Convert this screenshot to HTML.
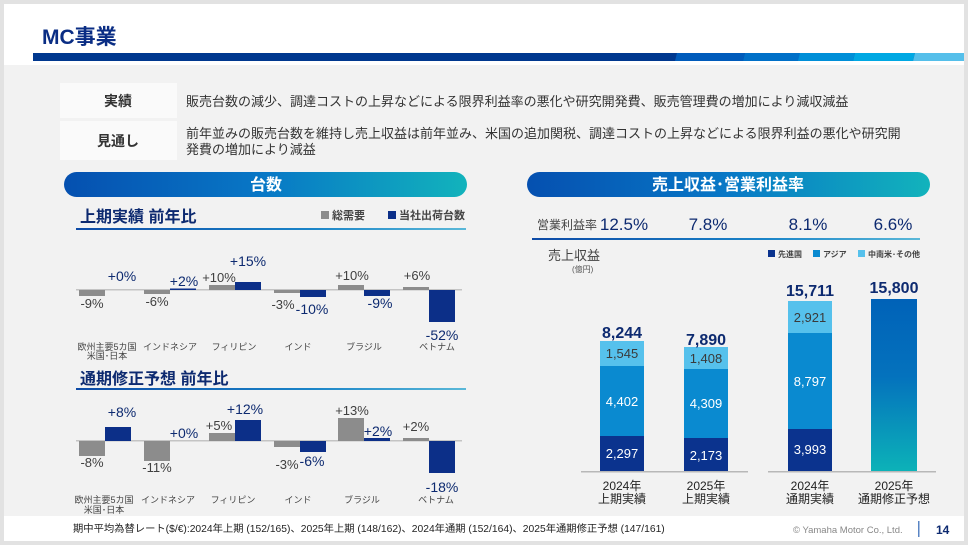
<!DOCTYPE html>
<html><head><meta charset="utf-8">
<style>
html,body{margin:0;padding:0;background:#e2e2e2;}
body{width:968px;height:545px;overflow:hidden;}
svg{display:block;}
text{font-family:"Liberation Sans","Noto Sans CJK JP",sans-serif;}
</style></head>
<body>
<svg width="968" height="545" viewBox="0 0 968 545" xmlns="http://www.w3.org/2000/svg">
<defs>
<linearGradient id="pill" x1="0" y1="0" x2="1" y2="0">
<stop offset="0" stop-color="#0550b0"/><stop offset="0.5" stop-color="#0878c6"/><stop offset="1" stop-color="#12b3bc"/>
</linearGradient>
<linearGradient id="uline" x1="0" y1="0" x2="1" y2="0">
<stop offset="0" stop-color="#0d4aa6"/><stop offset="0.6" stop-color="#1a84c8"/><stop offset="1" stop-color="#5ab8d8"/>
</linearGradient>
<linearGradient id="bar4" x1="0" y1="0" x2="0" y2="1">
<stop offset="0" stop-color="#0062b8"/><stop offset="0.45" stop-color="#0472bd"/><stop offset="1" stop-color="#0cb2b8"/>
</linearGradient>
</defs>
<!-- slide -->
<rect x="4" y="4" width="960" height="537" fill="#f2f2f2"/>
<rect x="4" y="4" width="960" height="61" fill="#ffffff"/>
<rect x="4" y="516" width="960" height="25" fill="#ffffff"/>
<!-- header band -->
<rect x="33" y="53" width="931" height="8" fill="#00388f"/>
<polygon points="677,53 745,53 743,61 675,61" fill="#005bbb"/>
<polygon points="745,53 800,53 800,61 743,61" fill="#0070c8"/>
<polygon points="800,53 855,53 853,61 798,61" fill="#008fd8"/>
<polygon points="855,53 915,53 913,61 853,61" fill="#00a8e3"/>
<polygon points="915,53 964,53 964,61 913,61" fill="#55bfea"/>
<text x="42" y="44" font-size="21" fill="#0a2d84" font-weight="bold">MC事業</text>

<!-- summary boxes -->
<rect x="60" y="83" width="117" height="35" fill="#fafafa"/>
<rect x="60" y="121" width="117" height="39" fill="#fafafa"/>
<text x="118" y="106" font-size="14" font-weight="bold" fill="#333" text-anchor="middle">実績</text>
<text x="118" y="146" font-size="14" font-weight="bold" fill="#333" text-anchor="middle">見通し</text>
<text x="186" y="106" font-size="13" fill="#333">販売台数の減少、調達コストの上昇などによる限界利益率の悪化や研究開発費、販売管理費の増加により減収減益</text>
<text x="186" y="138" font-size="13" fill="#333">前年並みの販売台数を維持し売上収益は前年並み、米国の追加関税、調達コストの上昇などによる限界利益の悪化や研究開</text>
<text x="186" y="154" font-size="13" fill="#333">発費の増加により減益</text>

<!-- left pill -->
<rect x="64" y="172" width="403" height="25" rx="12.5" fill="url(#pill)"/>
<text x="266" y="190" font-size="16" font-weight="bold" fill="#fff" text-anchor="middle">台数</text>

<!-- chart 1 -->
<text x="80" y="222" font-size="16" font-weight="bold" fill="#0d2a70">上期実績 前年比</text>
<rect x="76" y="228" width="390" height="2" fill="url(#uline)"/>
<rect x="321" y="211" width="8" height="8" fill="#8c8c8c"/>
<text x="332" y="219" font-size="11" fill="#444" font-weight="bold">総需要</text>
<rect x="388" y="211" width="8" height="8" fill="#0c2f88"/>
<text x="399" y="219" font-size="11" fill="#444" font-weight="bold">当社出荷台数</text>
<rect x="76" y="289" width="386" height="1.5" fill="#c4c4c4"/>
<g fill="#8c8c8c">
<rect x="79" y="290" width="26" height="6"/>
<rect x="144" y="290" width="26" height="4"/>
<rect x="209" y="285" width="26" height="5"/>
<rect x="274" y="290" width="26" height="3"/>
<rect x="338" y="285" width="26" height="5"/>
<rect x="403" y="287" width="26" height="3"/>
</g>
<g fill="#0c2f88">
<rect x="170" y="288.5" width="26" height="1.5"/>
<rect x="235" y="282" width="26" height="8"/>
<rect x="300" y="290" width="26" height="7"/>
<rect x="364" y="290" width="26" height="6"/>
<rect x="429" y="290" width="26" height="32"/>
</g>
<g font-size="13" fill="#404040" text-anchor="middle">
<text x="92" y="308">-9%</text>
<text x="157" y="306">-6%</text>
<text x="219" y="282">+10%</text>
<text x="283" y="309">-3%</text>
<text x="352" y="280">+10%</text>
<text x="417" y="280">+6%</text>
</g>
<g font-size="14" fill="#0d2a70" text-anchor="middle">
<text x="122" y="281">+0%</text>
<text x="184" y="286">+2%</text>
<text x="248" y="266">+15%</text>
<text x="312" y="314">-10%</text>
<text x="380" y="308">-9%</text>
<text x="442" y="340">-52%</text>
</g>
<g font-size="9" fill="#444" text-anchor="middle">
<text x="107" y="350">欧州主要5カ国</text>
<text x="107" y="359">米国･日本</text>
<text x="170" y="350">インドネシア</text>
<text x="234" y="350">フィリピン</text>
<text x="298" y="350">インド</text>
<text x="364" y="350">ブラジル</text>
<text x="437" y="350">ベトナム</text>
</g>

<!-- chart 2 -->
<text x="80" y="384" font-size="16" font-weight="bold" fill="#0d2a70">通期修正予想 前年比</text>
<rect x="76" y="388" width="390" height="2" fill="url(#uline)"/>
<rect x="76" y="440" width="386" height="1.5" fill="#c4c4c4"/>
<g fill="#8c8c8c">
<rect x="79" y="441" width="26" height="15"/>
<rect x="144" y="441" width="26" height="20"/>
<rect x="209" y="433" width="26" height="8"/>
<rect x="274" y="441" width="26" height="6"/>
<rect x="338" y="418" width="26" height="23"/>
<rect x="403" y="438" width="26" height="3"/>
</g>
<g fill="#0c2f88">
<rect x="105" y="427" width="26" height="14"/>
<rect x="235" y="420" width="26" height="21"/>
<rect x="300" y="441" width="26" height="11"/>
<rect x="364" y="438" width="26" height="3"/>
<rect x="429" y="441" width="26" height="32"/>
</g>
<g font-size="13" fill="#404040" text-anchor="middle">
<text x="92" y="467">-8%</text>
<text x="157" y="472">-11%</text>
<text x="219" y="430">+5%</text>
<text x="287" y="469">-3%</text>
<text x="352" y="415">+13%</text>
<text x="416" y="431">+2%</text>
</g>
<g font-size="14" fill="#0d2a70" text-anchor="middle">
<text x="122" y="417">+8%</text>
<text x="184" y="438">+0%</text>
<text x="245" y="414">+12%</text>
<text x="312" y="466">-6%</text>
<text x="378" y="436">+2%</text>
<text x="442" y="492">-18%</text>
</g>
<g font-size="9" fill="#444" text-anchor="middle">
<text x="104" y="503">欧州主要5カ国</text>
<text x="104" y="513">米国･日本</text>
<text x="168" y="503">インドネシア</text>
<text x="233" y="503">フィリピン</text>
<text x="298" y="503">インド</text>
<text x="362" y="503">ブラジル</text>
<text x="436" y="503">ベトナム</text>
</g>

<!-- right pill -->
<rect x="527" y="172" width="403" height="25" rx="12.5" fill="url(#pill)"/>
<text x="728" y="190" font-size="16" font-weight="bold" fill="#fff" text-anchor="middle">売上収益･営業利益率</text>

<text x="537" y="229" font-size="12" fill="#444">営業利益率</text>
<g font-size="17" fill="#0d2a70" text-anchor="middle">
<text x="624" y="230">12.5%</text>
<text x="708" y="230">7.8%</text>
<text x="808" y="230">8.1%</text>
<text x="893" y="230">6.6%</text>
</g>
<rect x="532" y="238" width="388" height="2" fill="url(#uline)"/>
<text x="548" y="260" font-size="13" fill="#444">売上収益</text>
<text x="572" y="272" font-size="8" fill="#555">(億円)</text>
<rect x="768" y="250" width="7" height="7" fill="#0b338e"/>
<text x="778" y="257" font-size="8" fill="#444" font-weight="bold">先進国</text>
<rect x="813" y="250" width="7" height="7" fill="#0a8ad0"/>
<text x="823" y="257" font-size="8" fill="#444" font-weight="bold">アジア</text>
<rect x="858" y="250" width="7" height="7" fill="#56c1ec"/>
<text x="868" y="257" font-size="8" fill="#444" font-weight="bold">中南米･その他</text>

<!-- stacked bars -->
<rect x="581" y="471" width="167" height="1.5" fill="#b8b8b8"/>
<rect x="768" y="471" width="168" height="1.5" fill="#b8b8b8"/>
<rect x="600" y="341" width="44" height="25" fill="#56c1ec"/>
<rect x="600" y="366" width="44" height="70" fill="#0a8ad0"/>
<rect x="600" y="436" width="44" height="35" fill="#0b338e"/>
<rect x="684" y="347" width="44" height="22" fill="#56c1ec"/>
<rect x="684" y="369" width="44" height="69" fill="#0a8ad0"/>
<rect x="684" y="438" width="44" height="33" fill="#0b338e"/>
<rect x="788" y="301" width="44" height="32" fill="#56c1ec"/>
<rect x="788" y="333" width="44" height="96" fill="#0a8ad0"/>
<rect x="788" y="429" width="44" height="42" fill="#0b338e"/>
<rect x="871" y="299" width="46" height="172" fill="url(#bar4)"/>
<g font-size="16" font-weight="bold" fill="#0d2a70" text-anchor="middle">
<text x="622" y="338">8,244</text>
<text x="706" y="345">7,890</text>
<text x="810" y="296">15,711</text>
<text x="894" y="293">15,800</text>
</g>
<g font-size="13" text-anchor="middle">
<text x="622" y="358" fill="#3a3a3a">1,545</text>
<text x="622" y="406" fill="#fff">4,402</text>
<text x="622" y="458" fill="#fff">2,297</text>
<text x="706" y="363" fill="#3a3a3a">1,408</text>
<text x="706" y="408" fill="#fff">4,309</text>
<text x="706" y="460" fill="#fff">2,173</text>
<text x="810" y="322" fill="#3a3a3a">2,921</text>
<text x="810" y="386" fill="#fff">8,797</text>
<text x="810" y="454" fill="#fff">3,993</text>
</g>
<g font-size="12" fill="#222" text-anchor="middle">
<text x="622" y="490">2024年</text>
<text x="622" y="503">上期実績</text>
<text x="706" y="490">2025年</text>
<text x="706" y="503">上期実績</text>
<text x="810" y="490">2024年</text>
<text x="810" y="503">通期実績</text>
<text x="894" y="490">2025年</text>
<text x="894" y="503">通期修正予想</text>
</g>

<!-- footer -->
<text x="73" y="532" font-size="10.3" fill="#222">期中平均為替レート($/€):2024年上期 (152/165)、2025年上期 (148/162)、2024年通期 (152/164)、2025年通期修正予想 (147/161)</text>
<text x="793" y="533" font-size="9.5" fill="#888">© Yamaha Motor Co., Ltd.</text>
<rect x="918" y="521" width="1.5" height="16" fill="#5a85c4"/>
<text x="936" y="534" font-size="12" font-weight="bold" fill="#0d2a70">14</text>
</svg>
</body></html>
